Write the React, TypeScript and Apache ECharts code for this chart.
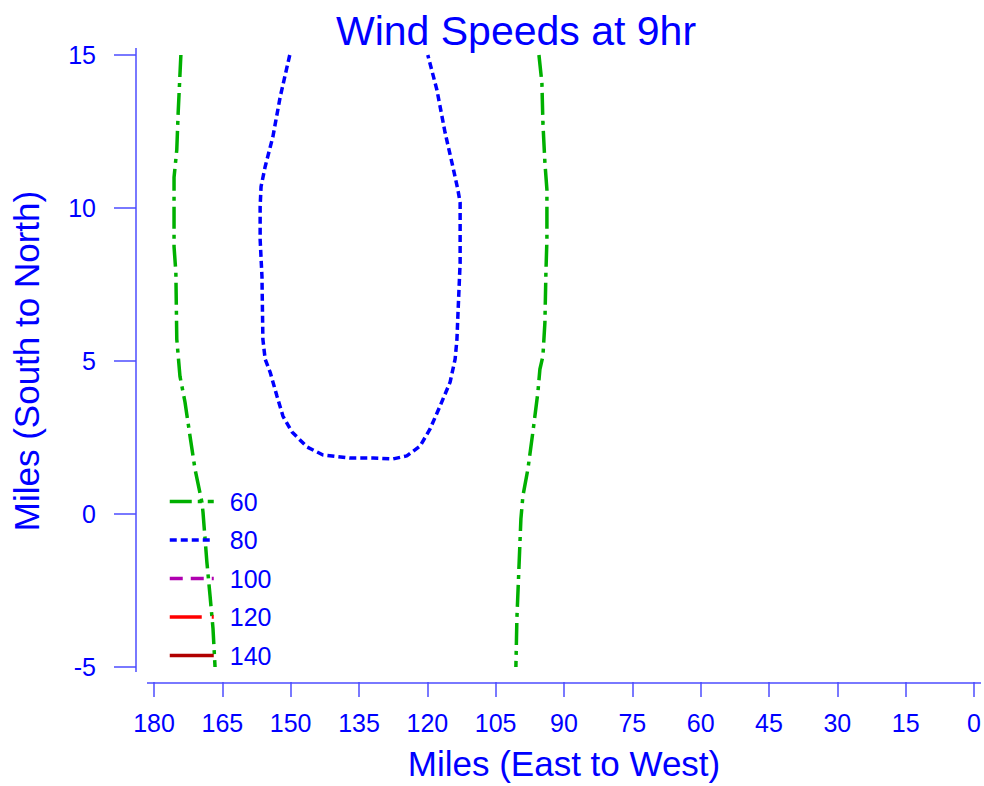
import React, { useEffect, useRef } from "react";
import * as echarts from "echarts";

// Contour level names
const levels = ["60", "80", "100", "120", "140"];
const levelColors = ["#00b000", "#0000ff", "#b000b0", "#ff0000", "#b00000"];

// X ticks (miles east to west) and Y ticks
const xTicks = [180, 165, 150, 135, 120, 105, 90, 75, 60, 45, 30, 15, 0];
const yTicks = [-5, 0, 5, 10, 15];

// Contour 60 — western branch [x, y]
const c60West: number[][] = [
  [174.1, 15], [174.7, 13.1], [175.0, 11.9], [175.6, 11.0], [175.6, 10.05],
  [175.6, 8.74], [175.2, 7.89], [175.0, 5.71], [174.3, 4.5], [173.2, 3.66],
  [172.1, 2.55], [171.0, 1.47], [169.5, 0.4], [169.25, 0.07], [168.4, -1.56],
  [167.7, -2.67], [167.05, -3.74], [166.6, -5],
];

// Contour 60 — eastern branch [x, y]
const c60East: number[][] = [
  [95.5, 15], [94.85, 14.09], [94.63, 12.78], [94.19, 11.48], [93.75, 10.6],
  [93.75, 8.97], [93.97, 7.89], [94.19, 6.26], [94.63, 5.16], [95.29, 4.73],
  [95.73, 3.98], [96.83, 2.68], [97.92, 1.47], [99.02, 0.59], [99.46, -0.16],
  [99.9, -1.79], [100.34, -3.42], [100.56, -5],
];

// Contour 80 — U shaped [x, y]
const c80: number[][] = [
  [150.2, 15], [152.3, 13.63], [153.9, 12.33], [155.6, 11.35], [156.5, 10.7],
  [156.7, 10.05], [156.7, 8.97], [156.3, 7.76], [156.1, 5.71], [155.6, 5.06],
  [154.5, 4.63], [153.0, 3.85], [151.7, 3.2], [149.7, 2.68], [146.4, 2.19],
  [142.9, 1.93], [137.0, 1.83], [131.9, 1.83], [127.5, 1.8], [124.5, 1.9],
  [121.6, 2.22], [119.4, 2.78], [117.2, 3.53], [115.0, 4.31], [113.9, 5.06],
  [113.5, 5.71], [113.3, 6.46], [112.8, 8.22], [112.8, 10.18], [113.3, 10.6],
  [114.4, 11.35], [116.1, 12.46], [117.9, 13.86], [119.9, 15],
];

const c100: number[][] = [];
const c120: number[][] = [];
const c140: number[][] = [];

const dashes: (number[] | string)[] = [[22, 6, 4, 6], [7, 4], [13, 8], [32, 10], "solid"];

const FONT = "'Liberation Sans', Arial, sans-serif";
const TEXT = "#0000ff";
const AXIS = "#4c4cff";

export default function App() {
  const ref = useRef<HTMLDivElement>(null);
  useEffect(() => {
    if (!ref.current) return;
    const chart = echarts.init(ref.current, undefined, { renderer: "svg" });
    const mk = (idx: number, data: number[][]) => ({
      name: levels[idx],
      type: "line",
      data,
      showSymbol: false,
      symbol: "none",
      smooth: false,
      color: levelColors[idx],
      lineStyle: { color: levelColors[idx], width: 3.5, type: dashes[idx] },
      clip: false,
    });
    chart.setOption({
      animation: false,
      backgroundColor: "#ffffff",
      title: {
        text: "Wind Speeds at 9hr",
        left: 511,
        top: 5,
        textAlign: "center",
        textStyle: { color: TEXT, fontFamily: FONT, fontSize: 41, fontWeight: "normal" },
      },
      grid: { left: 154, right: 10, top: 55, bottom: 118 },
      legend: {
        orient: "vertical",
        left: 168,
        top: 489,
        padding: 0,
        itemWidth: 44,
        itemHeight: 25,
        itemGap: 13.5,
        itemStyle: { opacity: 0 },
        lineStyle: { width: 3.5 },
        data: levels,
        textStyle: { color: TEXT, fontFamily: FONT, fontSize: 25, lineHeight: 25, padding: [0, 0, 0, 11] },
      },
      xAxis: {
        type: "value",
        inverse: true,
        min: 0,
        max: 180,
        interval: 15,
        offset: 15,
        splitLine: { show: false },
        axisLine: { show: false, onZero: false },
        axisTick: { show: true, length: 15, lineStyle: { color: AXIS, width: 1.5 } },
        axisLabel: {
          color: TEXT, fontFamily: FONT, fontSize: 25, margin: 28,
          formatter: (v: number) => (xTicks.includes(v) ? String(v) : ""),
        },
        name: "Miles (East to West)",
        nameLocation: "middle",
        nameGap: 64,
        nameTextStyle: { color: TEXT, fontFamily: FONT, fontSize: 35 },
      },
      yAxis: {
        type: "value",
        position: "left",
        min: -5,
        max: 15,
        interval: 5,
        offset: 18,
        splitLine: { show: false },
        axisLine: { show: false, onZero: false },
        axisTick: { show: true, length: 22, lineStyle: { color: AXIS, width: 1.5 } },
        axisLabel: {
          color: TEXT, fontFamily: FONT, fontSize: 25, margin: 40,
          formatter: (v: number) => (yTicks.includes(v) ? String(v) : ""),
        },
        name: "Miles (South to North)",
        nameLocation: "middle",
        nameGap: 92,
        nameTextStyle: { color: TEXT, fontFamily: FONT, fontSize: 35 },
      },
      graphic: [
        { type: "line", shape: { x1: 147, y1: 683, x2: 981, y2: 683 }, style: { stroke: AXIS, lineWidth: 1.5 } },
        { type: "line", shape: { x1: 136, y1: 48, x2: 136, y2: 672 }, style: { stroke: AXIS, lineWidth: 1.5 } },
      ],
      series: [
        mk(0, c60West),
        mk(0, c60East),
        mk(1, c80),
        mk(2, c100),
        mk(3, c120),
        mk(4, c140),
      ],
    });
    return () => chart.dispose();
  }, []);
  return <div ref={ref} style={{ position: "fixed", left: 0, top: 0, width: 984, height: 786 }} />;
}
